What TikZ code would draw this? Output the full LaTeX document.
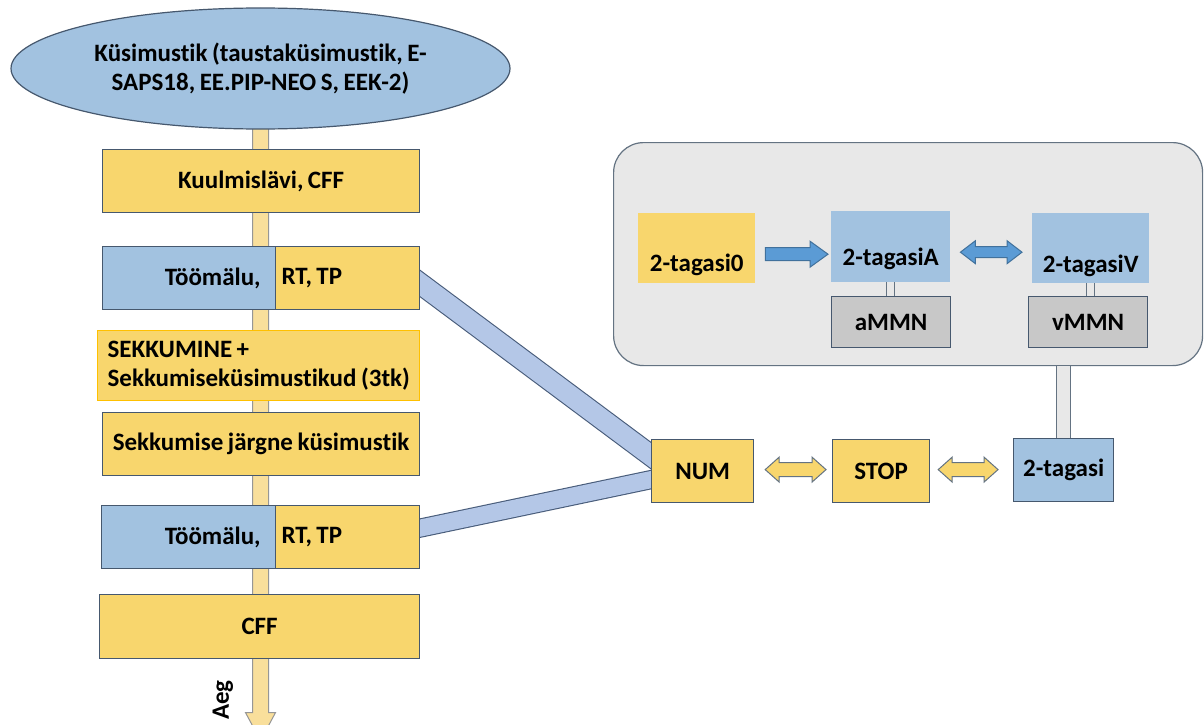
\documentclass[tikz,border=0pt]{standalone}
\usepackage{fontspec}
\setmainfont{Carlito}[Ligatures=NoCommon, WordSpace=0.8]
\usetikzlibrary{calc,shapes.geometric}
\pgfdeclarelayer{back}
\pgfdeclarelayer{bg}
\pgfsetlayers{back,bg,main}
\definecolor{bfill}{RGB}{162,194,224}
\definecolor{yfill}{RGB}{248,214,109}
\definecolor{bdr}{RGB}{70,88,110}
\definecolor{bandf}{RGB}{180,199,231}
\definecolor{bandd}{RGB}{72,92,122}
\definecolor{barf}{RGB}{249,223,155}
\definecolor{bard}{RGB}{150,150,150}
\definecolor{grpf}{RGB}{232,232,232}
\definecolor{grpd}{RGB}{100,115,130}
\definecolor{mmnf}{RGB}{200,200,200}
\definecolor{arrb}{RGB}{91,155,213}
\definecolor{arrbd}{RGB}{65,113,156}
\definecolor{sekkd}{RGB}{255,192,0}
\newcommand{\blockarrow}[6]{%
  \filldraw[#1] ($#2+(0,-#4)$) -- ($#3+(-#6,-#4)$) -- ($#3+(-#6,-#5)$) -- #3
    -- ($#3+(-#6,#5)$) -- ($#3+(-#6,#4)$) -- ($#2+(0,#4)$) -- cycle;}
\newcommand{\dblarrow}[6]{%
  \filldraw[#1] #2 -- ($#2+(#6,-#5)$) -- ($#2+(#6,-#4)$) -- ($#3+(-#6,-#4)$)
    -- ($#3+(-#6,-#5)$) -- #3 -- ($#3+(-#6,#5)$) -- ($#3+(-#6,#4)$)
    -- ($#2+(#6,#4)$) -- ($#2+(#6,#5)$) -- cycle;}
\newcommand{\nsp}{\spaceskip=0pt\xspaceskip=0pt\relax}
\begin{document}
\begin{tikzpicture}[x=1pt,y=-1pt,
  every node/.style={font=\fontsize{25}{29.5}\selectfont\bfseries, inner sep=0pt},
  box/.style={draw=bdr, line width=1.2pt, anchor=north west, minimum height=63pt},
  pbox/.style={anchor=north west, minimum width=117pt, minimum height=70pt},
  mbox/.style={draw=bdr, line width=1.2pt, fill=mmnf, anchor=north west, minimum width=119pt, minimum height=51pt},
  band/.style={draw=bandd, line width=1.1pt, double=bandf, shorten <=-15pt, shorten >=-15pt},
  gconn/.style={draw=grpd, line width=1pt, double=grpf},
  bar/.style={fill=barf, draw=bard, line width=1pt},
  barrow/.style={fill=arrb, draw=arrbd, line width=1pt},
  yarrow/.style={fill=yfill, draw=grpd, line width=1pt}
]
\begin{pgfonlayer}{back}
\fill[white] (0,0) rectangle (1204,725);
\end{pgfonlayer}
\useasboundingbox (0,0) rectangle (1204,725);

% left column
\node[ellipse, draw=bdr, fill=bfill, line width=1.2pt, minimum width=499pt, minimum height=121pt, align=center] (ell) at (260.5,68.5)
  {\nsp Küsimustik (taustaküsimustik, E-\\SAPS18, EE.PIP-NEO S, EEK-2)};
\node[box, fill=yfill, minimum width=317pt] (kuul) at (102,149) {Kuulmislävi, CFF};
\node[box, fill=bfill, minimum width=173pt, text width=143pt, align=right] (too1a) at (102,246) {Töömälu,};
\node[box, fill=yfill, minimum width=144pt, text width=132pt, align=left] (too1b) at (275,246) {\nsp RT, TP};
\node[box, draw=sekkd, fill=yfill, minimum width=322pt, minimum height=70pt, text width=318pt, align=left] (sekk) at (97,330)
  {\nsp\hspace*{8pt}SEKKUMINE +\\\hspace*{8pt}Sekkumiseküsimustikud (3tk)};
\node[box, fill=yfill, minimum width=317pt] (jarg) at (102,412) {Sekkumise järgne küsimustik};
\node[box, fill=bfill, minimum width=174pt, text width=144pt, align=right] (too2a) at (101,505) {Töömälu,};
\node[box, fill=yfill, minimum width=144pt, text width=132pt, align=left] (too2b) at (275,505) {\nsp RT, TP};
\node[box, fill=yfill, minimum width=320pt, minimum height=64pt] (cff) at (99,594) {CFF};
\node[rotate=90] (aeg) at (223,700) {Aeg};

% right group
\begin{pgfonlayer}{back}
\node[draw=grpd, fill=grpf, rounded corners=30pt, line width=1.2pt, anchor=north west, minimum width=589pt, minimum height=223pt] (grp) at (613,142) {};
\end{pgfonlayer}
\node[pbox, fill=yfill, label={[yshift=-17pt]center:2-tagasi0}] (t0) at (638,213) {};
\node[pbox, fill=bfill, minimum width=119pt, minimum height=71pt, label={[yshift=-12.5pt]center:2-tagasiA}] (tA) at (831,211) {};
\node[pbox, fill=bfill, label={[yshift=-18pt]center:2-tagasiV}] (tV) at (1032,213) {};
\node[mbox] (aM) at (831,296) {aMMN};
\node[mbox] (vM) at (1028,296) {vMMN};
\node[box, fill=yfill, minimum width=102pt] (num) at (651,439) {NUM};
\node[box, fill=yfill, minimum width=97pt] (stop) at (832,439) {STOP};
\node[box, fill=bfill, minimum width=100pt] (tag) at (1013,438) {2-tagasi};

% background connectors
\begin{pgfonlayer}{bg}
\coordinate (tip) at ($(ell.south)+(0,611)$);
\filldraw[bar] ($(ell.south)+(-8,-10)$) -- ($(tip)+(-8,-28)$) -- ($(tip)+(-15,-28)$) -- (tip)
  -- ($(tip)+(15,-28)$) -- ($(tip)+(8,-28)$) -- ($(ell.south)+(8,-10)$) -- cycle;
\draw[band, double distance=20pt] ($(too1b.east)+(0,5.5)$) -- ($(num.west)+(0,-15.5)$);
\draw[band, double distance=17pt] ($(too2b.east)+(0,-9)$) -- ($(num.west)+(0,8.5)$);
\draw[gconn, double distance=13pt, shorten <=-3pt] (tag.north) -- (tag.north |- grp.south);
\draw[gconn, double distance=7pt] (tA.south) -- (tA.south |- aM.north);
\draw[gconn, double distance=7pt] (tV.south) -- (tV.south |- vM.north);
\end{pgfonlayer}

% block arrows
\coordinate (a1s) at ($(t0.east)+(10,6)$);
\coordinate (a1e) at ($(tA.west)+(-3,7.5)$);
\blockarrow{barrow}{(a1s)}{(a1e)}{6.5}{13}{18}
\coordinate (a2s) at ($(tA.east)+(10,5.5)$);
\coordinate (a2e) at ($(tV.west)+(-10,4)$);
\dblarrow{barrow}{(a2s)}{(a2e)}{5.5}{11.5}{15}
\coordinate (a3s) at ($(num.east)+(11,-1.5)$);
\coordinate (a3e) at ($(stop.west)+(-6,-1.5)$);
\dblarrow{yarrow}{(a3s)}{(a3e)}{7}{12.5}{14}
\coordinate (a4s) at ($(stop.east)+(8,-1.5)$);
\coordinate (a4e) at ($(tag.west)+(-15,-0.5)$);
\dblarrow{yarrow}{(a4s)}{(a4e)}{7}{12.5}{14}
\end{tikzpicture}
\end{document}
